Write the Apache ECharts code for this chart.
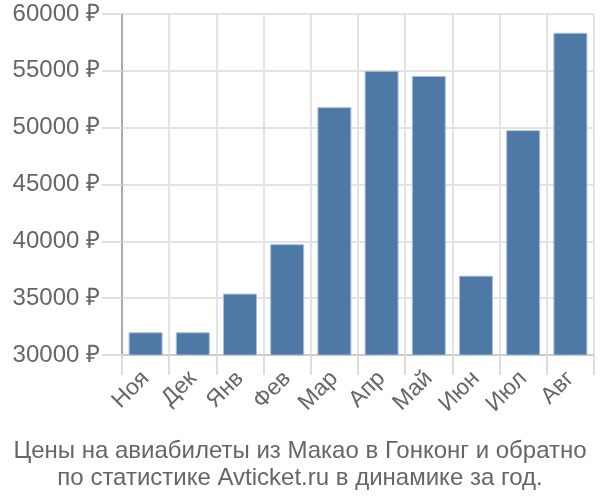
<!DOCTYPE html>
<html><head><meta charset="utf-8">
<script src="https://cdn.jsdelivr.net/npm/echarts@6/dist/echarts.min.js"></script>
<style>html,body{margin:0;padding:0;background:#fff}#c{width:600px;height:500px}</style>
</head><body><div id="c"></div>
<script>
var categories = ['Ноя','Дек','Янв','Фев','Мар','Апр','Май','Июн','Июл','Авг'];
var prices = [32000, 32000, 35400, 39750, 51800, 55000, 54550, 36980, 49780, 58350];
var yTicks = {min: 30000, max: 60000, interval: 5000};
var titleLines = ['Цены на авиабилеты из Макао в Гонконг и обратно', 'по статистике Avticket.ru в динамике за год.'];

var chart = echarts.init(document.getElementById('c'), null, {renderer: 'canvas'});
var font = 'Liberation Sans';
chart.setOption({
  animation: false,
  textStyle: {fontFamily: font},
  title: {
    text: titleLines.join('\n'),
    left: 'center', top: 433,
    textStyle: {fontFamily: font, fontSize: 24, fontWeight: 'normal', color: '#666', lineHeight: 27}
  },
  grid: {left: 122, right: 6, top: 14, bottom: 145, containLabel: false},
  xAxis: {
    type: 'category', data: categories, boundaryGap: true,
    axisLine: {show: true, lineStyle: {color: '#ccc', width: 2}},
    axisTick: {show: true, length: 20, interval: 0, lineStyle: {color: '#ddd', width: 2}},
    splitLine: {show: true, interval: 0, lineStyle: {color: '#e3e3e3', width: 2}},
    axisLabel: {interval: 0, rotate: 45, margin: 20, fontSize: 23, color: '#666', fontFamily: font}
  },
  yAxis: {
    type: 'value', min: yTicks.min, max: yTicks.max, interval: yTicks.interval,
    axisLine: {show: true, lineStyle: {color: '#aaa', width: 2}},
    axisTick: {show: true, length: 20, lineStyle: {color: '#ddd', width: 2}},
    splitLine: {show: true, lineStyle: {color: '#e3e3e3', width: 2}},
    axisLabel: {margin: 22, fontSize: 24, color: '#666', fontFamily: font,
      formatter: function(v){ return v + ' ₽'; }}
  },
  series: [{
    type: 'bar', data: prices, barCategoryGap: '28%',
    itemStyle: {color: '#4e79a7', borderColor: '#a9c0d8', borderWidth: 1}
  }]
});
</script></body></html>
